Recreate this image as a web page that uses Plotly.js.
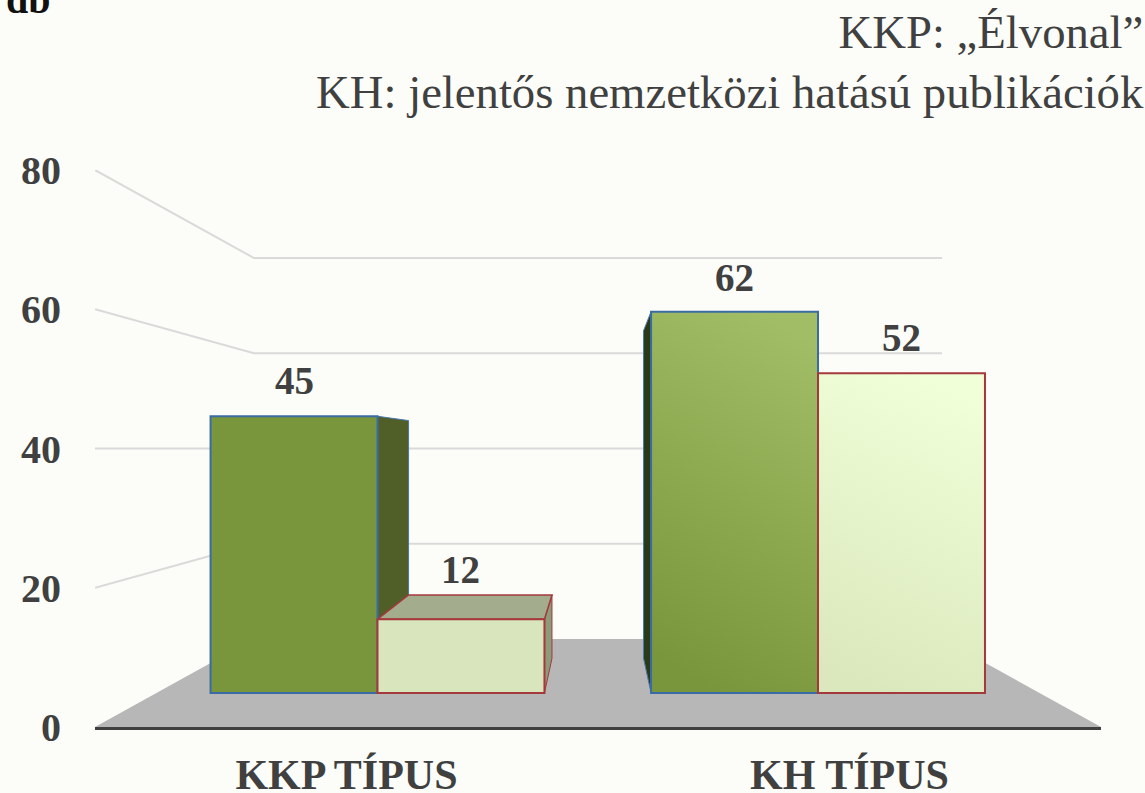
<!DOCTYPE html>
<html>
<head>
<meta charset="utf-8">
<script src="https://cdn.plot.ly/plotly-3.0.1.min.js"></script>
<style>html,body{margin:0;padding:0;background:#FCFDF8;}#chart{width:1145px;height:793px;}</style>
</head>
<body>
<div id="chart"></div>
<script>
const categories = ["KKP TÍPUS", "KH TÍPUS"];
const seriesGreen = [45, 62];
const seriesLight = [12, 52];
const yTicks = [0, 20, 40, 60, 80];
const titleLines = ["KKP: „Élvonal”", "KH: jelentős nemzetközi hatású publikációk"];
const unitLabel = "db";

const barW = 0.379;
const ink = "#404040";
const serif = "'Liberation Serif', serif";
const VX = 0.5, VY = 40;           // shared vanishing point of the perspective
const BACK_T = 0.316, BAR_T = 0.141;
const proj = (x, y, t) => [x + (VX - x) * t, y + (VY - y) * t];
const pathOf = pts => "M" + pts.map(p => p[0] + " " + p[1]).join(" L") + " Z";
const lineOf = pts => "M" + pts.map(p => p[0] + " " + p[1]).join(" L");

const shapes = [];
// floor
const fl = [-0.5, 1.5];
shapes.push({type:"path", layer:"below", xref:"x", yref:"y", line:{width:0}, fillcolor:"#B7B7B7",
  path: pathOf([[fl[0],0], proj(fl[0],0,BACK_T), proj(fl[1],0,BACK_T), [fl[1],0]])});
// wall grid
yTicks.filter(v => v > 0).forEach(v => {
  shapes.push({type:"path", layer:"below", xref:"x", yref:"y", line:{color:"#DADADA", width:2},
    path: lineOf([[fl[0],v], proj(fl[0],v,BACK_T), proj(fl[1],v,BACK_T)])});
});
// bar depth faces
function faces(xl, xr, v, sideCol, topCol, edge) {
  const s = {type:"path", layer:"below", xref:"x2", yref:"y2", fillcolor:sideCol, line:{color:edge, width:1}};
  if (xr < VX) shapes.push(Object.assign({}, s, {path: pathOf([[xr,v], proj(xr,v,BAR_T), proj(xr,0,BAR_T), [xr,0]])}));
  if (xl > VX) shapes.push(Object.assign({}, s, {path: pathOf([[xl,v], proj(xl,v,BAR_T), proj(xl,0,BAR_T), [xl,0]])}));
  if (v < VY) shapes.push(Object.assign({}, s, {fillcolor:topCol, line:{color:edge, width:1.5},
    path: pathOf([[xl,v], proj(xl,v,BAR_T), proj(xr,v,BAR_T), [xr,v]])}));
}
const xGreen = categories.map((c,i) => i - barW/2);
const xLight = categories.map((c,i) => i + barW/2);
const sideGreen = ["#4F5F27", "#2A3A17"];
const sideLight = ["#8D9A7B", "#8D9A7B"];
categories.forEach((c,i) => {
  faces(xGreen[i]-barW/2, xGreen[i]+barW/2, seriesGreen[i], sideGreen[i], sideGreen[i], "#4A78AE");
  faces(xLight[i]-barW/2, xLight[i]+barW/2, seriesLight[i], sideLight[i], "#A3AD8E", "#A5383B");
});

const labelShift = [[36, 34], [50, 36]];
const annotations = [];
categories.forEach((c,i) => {
  annotations.push({xref:"x2", yref:"y2", x:xGreen[i], y:seriesGreen[i], yshift:labelShift[0][i], text:String(seriesGreen[i]),
    showarrow:false, yanchor:"middle", xanchor:"center", font:{family:serif, size:39, color:ink, weight:700}});
  annotations.push({xref:"x2", yref:"y2", x:xLight[i], y:seriesLight[i], yshift:labelShift[1][i], text:String(seriesLight[i]),
    showarrow:false, yanchor:"middle", xanchor:"center", font:{family:serif, size:39, color:ink, weight:700}});
});
annotations.push({xref:"paper", yref:"paper", x:-95/1006+4/1006, xanchor:"left", y:(727+1)/557, yanchor:"middle",
  text:unitLabel, showarrow:false, font:{family:serif, size:40, color:"#111111", weight:700}});

const traces = [
  {type:"bar", name:"KKP", x:xGreen, y:seriesGreen, width:barW, xaxis:"x2", yaxis:"y2", hoverinfo:"y",
   marker:{color:"#7A963C", line:{color:"#3B6BA5", width:2}}},
  {type:"bar", name:"KH", x:xLight, y:seriesLight, width:barW, xaxis:"x2", yaxis:"y2", hoverinfo:"y",
   marker:{color:"#D8E5BD", line:{color:"#A5383B", width:2}}}
];

const layout = {
  width:1145, height:793,
  margin:{l:95, r:44, t:170, b:66, pad:0},
  paper_bgcolor:"#FCFDF8", plot_bgcolor:"rgba(0,0,0,0)",
  showlegend:false, barmode:"overlay",
  title:{text:titleLines.join("<br>"), x:0.9985, xref:"container", xanchor:"right", y:0.94, yref:"container", yanchor:"top",
    font:{family:serif, size:46.7, color:ink}},
  xaxis:{type:"linear", range:[-0.5,1.5], tickvals:categories.map((c,i)=>i), ticktext:categories, showgrid:false, zeroline:false,
    showline:true, linecolor:ink, linewidth:3, ticks:"", ticklabelstandoff:9, tickfont:{family:serif, size:42, color:ink, weight:700}},
  yaxis:{type:"linear", range:[0,80], tickvals:yTicks, showgrid:false, zeroline:false, showline:false, ticks:"",
    ticklabelstandoff:33, tickfont:{family:serif, size:40, color:ink, weight:700}},
  xaxis2:{type:"linear", overlaying:"x", range:[-0.6413,1.6424], visible:false, anchor:"y2"},
  yaxis2:{type:"linear", overlaying:"y", range:[-5.528,85.04], visible:false, anchor:"x2"},
  shapes, annotations
};

Plotly.newPlot("chart", traces, layout, {displayModeBar:false, staticPlot:true}).then(gd => {
  // vertical sheen on the KH pair
  const svg = gd.querySelector(".main-svg");
  const NS = "http://www.w3.org/2000/svg";
  const defs = svg.querySelector("defs");
  const grad = (id, a, b) => {
    const g = document.createElementNS(NS, "linearGradient");
    g.setAttribute("id", id);
    g.setAttribute("x1", "0.65"); g.setAttribute("y1", "0"); g.setAttribute("x2", "0.4"); g.setAttribute("y2", "1");
    [[0,a],[1,b]].forEach(([o,c]) => {
      const s = document.createElementNS(NS, "stop");
      s.setAttribute("offset", o); s.setAttribute("stop-color", c); g.appendChild(s);
    });
    defs.appendChild(g);
  };
  grad("gGreen", "#A1BD65", "#7A963C");
  grad("gLight", "#F0FFD8", "#DBE8BD");
  const groups = gd.querySelectorAll(".barlayer .trace");
  ["gGreen","gLight"].forEach((id,k) => {
    const pts = groups[k].querySelectorAll(".point path");
    pts[1].style.setProperty("fill", "url(#" + id + ")");
  });
});
</script>
</body>
</html>
